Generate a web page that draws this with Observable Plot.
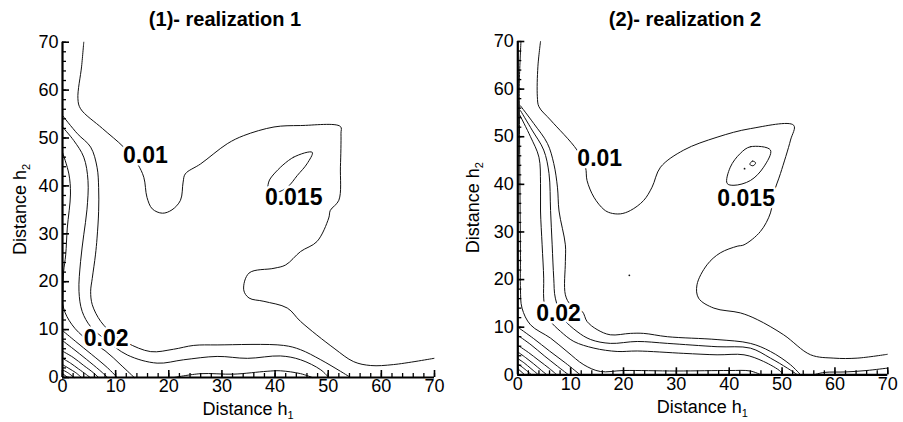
<!DOCTYPE html>
<html><head><meta charset="utf-8">
<script src="https://cdn.jsdelivr.net/npm/d3@7"></script>
<script src="https://cdn.jsdelivr.net/npm/@observablehq/plot@0.6"></script>
<style>
body{margin:0;background:#fff;}
#root{position:relative;width:903px;height:422px;overflow:hidden;font-family:"Liberation Sans",Arial,sans-serif;background:#fff;}
.title{position:absolute;top:6px;height:26px;line-height:26px;font-weight:bold;font-size:20px;text-align:center;color:#000;}
.panel{position:absolute;top:35px;}
</style>
</head><body>
<div id="root">
  <div class="title" style="left:25px;width:400px;">(1)- realization 1</div>
  <div class="title" style="left:485px;width:400px;">(2)- realization 2</div>
  <div class="panel" id="p1" style="left:0px;"></div>
  <div class="panel" id="p2" style="left:451px;"></div>
</div>
<script>
// ---------- axis ticks ----------
const majorTicks = [0,10,20,30,40,50,60,70];
const minorTicks = [0,2,4,6,8,10,12,14,16,18,20,22,24,26,28,30,32,34,36,38,40,42,44,46,48,50,52,54,56,58,60,62,64,66,68,70];

// ---------- realization 1 contour lines (x = h1, y = h2) ----------
const r1_c010 = [[4.0,70],[3.6,65],[2.9,58.2],[3.4,56.1],[7.5,52],[11.5,48.1],[14.1,44.6],[15.3,41.8],[15.9,37.6],[16.9,35.2],[18.8,34.3],[20.6,35.0],[22.2,37],[22.7,40.8],[23.1,42.5],[26,44.6],[31,48.8],[34.1,50.5],[39.8,52.3],[44.8,52.6],[52.3,52.4],[52.4,50.9],[52.3,44],[52,37],[50.4,34.9],[50.1,33.3],[47.9,28.4],[44.8,26.3],[42,23.5],[39.8,22.8],[35.1,21.8],[34.1,18.3],[35.1,16.6],[37.9,15.9],[42.3,14.5],[44.8,11.7],[51.1,6.1],[54.8,3.3],[58,2.5],[62.3,2.7],[69.9,4.0]];
const r1_c015loop = [[47,47],[43.5,46],[39.8,42.5],[38.8,40.8],[38.8,39],[40.4,38.7],[42.3,39.7],[44.2,42.2],[46,44.6]];
const r1_a = [[0,54.7],[2.8,50.9],[5.3,48.1],[6.5,43.9],[6.8,39.7],[6.8,34.7],[6.5,29.1],[6.2,25.6],[5.6,20.7],[5.3,18],[5.6,15.2],[7.2,11.7],[9.7,8.9],[12.2,7.2],[16.6,5.4],[20.9,5.9],[24.7,6.7],[29.1,6.8],[41.6,6.7],[44.8,5.8],[48.6,3.7],[52.3,1.3],[54.2,0]];
const r1_b = [[0,52.3],[2.1,49.5],[4,46],[4.8,41.1],[4.6,35],[4,29.8],[3.4,24.2],[3.1,18],[3.7,13.8],[5.3,10.6],[8,8],[12.2,4.7],[17.8,3],[22.8,3.7],[29.1,4.4],[34.8,4],[41,4.5],[44.8,3.7],[48.6,1.6],[50.1,0]];
const r1_c = [[0,47],[1.2,42.5],[1.5,38.3],[0.9,31.2],[0.6,25.6],[0.2,22],[0.1,18],[0.2,14.5],[1.8,11],[4.5,8],[8,5.6],[11,2.6],[13.5,0]];
const r1_d = [[21,0],[26,0.8],[32.2,0.7],[38.5,1.3],[41,1.4],[44.8,0.8],[47,0]];
const r1_f1 = [[0,9.8],[2.5,7.5],[5.5,4.8],[8.5,2],[10.3,0]];
const r1_f2 = [[0,7.7],[2,6],[4.5,3.8],[7,1.5],[8.5,0]];
const r1_f3 = [[0,5.5],[2,4.2],[4,2.5],[5.8,1],[6.8,0]];
const r1_f4 = [[0,4],[1.5,3],[3,1.8],[4.5,0.6],[5.2,0]];
const r1_f5 = [[0,2.7],[1.2,1.9],[2.5,1],[3.6,0]];
const r1_f6 = [[0,1.6],[1,1],[2.2,0]];
const r1_f7 = [[0,0.8],[1,0]];
const r1_labels = [[15.6,46.3,"0.01"],[43.5,37.5,"0.015"],[8.2,8.2,"0.02"]];

// ---------- realization 2 contour lines ----------
const r2_c010 = [[4.3,70],[3.8,64.7],[3.7,58.4],[4,56.3],[6.2,53.5],[11.2,47.2],[12.8,43.6],[13.1,40.8],[14.4,37.3],[16.3,34.7],[17.5,34],[19.4,33.8],[21.3,34.5],[23.8,36.6],[25.4,39.4],[27,43.6],[31.4,47.2],[37.7,49.9],[44,51.7],[52.2,52.4],[51.6,49.3],[49.7,42.3],[48.4,38],[47.8,34],[45.9,30.1],[42.8,27.3],[41.5,27],[38.3,25.6],[35.8,23.1],[33.9,18.9],[34.2,16.1],[37.1,14],[42.1,13],[45.3,11.6],[50.3,8.4],[55.4,4.2],[59.8,3.5],[64.2,3.5],[69.9,4.3]];
const r2_c015loop = [[47.8,47.2],[44,47.9],[42.1,46.5],[40.2,43.6],[39.6,40.2],[40.9,39.8],[44,40.8],[46.5,43.6]];
const r2_innerloop = [[43.9,44.2],[44.4,44.9],[45,44.5],[44.5,43.9]];
const r2_dots = [[42.9,43.3],[21.1,20.9]];
const r2_a = [[0.5,56.5],[3,52.8],[5.6,48.6],[6.8,44.4],[7.5,39.4],[7.8,34.4],[9,27.3],[9,23.8],[9,16.8],[10,14.7],[12.2,13.3],[13.1,11.2],[15,9.5],[17.5,8.4],[21.3,8.7],[23.8,8.7],[28.3,8],[37.7,7.4],[44,6.6],[47.8,4.9],[51.6,2.1],[53.5,0]];
const r2_b = [[0.5,55.5],[2.7,51.4],[4.9,47.2],[5.9,42.3],[6.2,34.5],[6.5,27.3],[6.8,20.3],[7.1,16.1],[8.5,12],[11.2,9.1],[13.8,7.4],[17.5,6.6],[22.6,7],[28.3,6.6],[37.7,5.9],[44,5.6],[47.8,3.5],[51,1.4],[52.9,0]];
const r2_c = [[0.4,54.5],[2.4,50],[4,45.7],[4.3,40.2],[4.3,34.4],[4.6,27.3],[4.9,20.3],[4.9,16.1],[5.3,13],[6.2,11.2],[8.1,9.1],[10.6,7],[14.4,5.6],[18.8,4.9],[22.6,5],[31.4,4.5],[37.7,4.2],[42.8,4.2],[46.5,2.8],[49.7,0.7],[50.1,0]];
const r2_d = [[0.6,70],[0.3,62],[0.3,56],[0.4,40],[0.5,25],[0.5,18],[0.8,14],[2.4,10.5],[6.2,7.7],[9.3,4.9],[12.5,2.1],[15.6,0.7],[20,0.9],[30,0.8],[40,0.9],[44,0.8],[46,0]];
const r2_e = [[56,0],[58,0.5],[62,0.6],[66,0.9],[69.9,1.4]];
const r2_f1 = [[0,10],[3,7.6],[6,5],[9,2.5],[11.8,0]];
const r2_f2 = [[0,8.3],[2.5,6.3],[5,4],[7.5,1.8],[9.6,0]];
const r2_f3 = [[0,6.2],[2,4.7],[4,3],[6,1.3],[7.4,0]];
const r2_f4 = [[0,4.8],[1.5,3.6],[3,2.3],[4.5,0.9],[5.5,0]];
const r2_f5 = [[0,3.4],[1.2,2.5],[2.5,1.3],[3.9,0]];
const r2_f6 = [[0,2.3],[1.2,1.3],[2.6,0]];
const r2_f7 = [[0,1.3],[1.3,0]];
const r2_labels = [[15.5,45.5,"0.01"],[43.2,36.9,"0.015"],[7.7,12.9,"0.02"]];

function toRows(lines){
  const rows = [];
  lines.forEach((ln, i) => ln.forEach(([x,y]) => rows.push({x, y, id: i})));
  return rows;
}

const FONT = "Liberation Sans, Arial, sans-serif";

function makePanel(cfg){
  const H = 387;
  const plotW = cfg.width - cfg.ml - cfg.mr;
  const plotH = H - cfg.mt - cfg.mb;
  const chart = Plot.plot({
    width: cfg.width, height: H,
    marginLeft: cfg.ml, marginRight: cfg.mr, marginTop: cfg.mt, marginBottom: cfg.mb,
    x: {domain: [0,70]},
    y: {domain: [0,70]},
    style: {fontFamily: FONT, background: "white", color: "black", overflow: "visible"},
    marks: [
      Plot.line(toRows(cfg.open), {x: "x", y: "y", z: "id", curve: "catmull-rom", stroke: "#111", strokeWidth: 1}),
      Plot.line(toRows(cfg.closed), {x: "x", y: "y", z: "id", curve: "catmull-rom-closed", stroke: "#111", strokeWidth: 1}),
      Plot.dot(cfg.dots, {x: d => d[0], y: d => d[1], r: 0.9, fill: "#111", stroke: "none"}),
      Plot.text(cfg.labels, {x: d => d[0], y: d => d[1], text: d => d[2], fontSize: 23, fontWeight: "bold", fill: "black", stroke: "white", strokeWidth: 5, fontFamily: FONT}),
      Plot.tickY(minorTicks, {y: d => d, insetRight: plotW - 4, stroke: "black", strokeWidth: 1.3}),
      Plot.tickY(majorTicks, {y: d => d, insetRight: plotW - 7, stroke: "black", strokeWidth: 1.6}),
      Plot.tickX(minorTicks, {x: d => d, insetTop: plotH - 4, stroke: "black", strokeWidth: 1.3}),
      Plot.tickX(majorTicks, {x: d => d, insetTop: plotH - 7, stroke: "black", strokeWidth: 1.6}),
      Plot.ruleX([0], {stroke: "black", strokeWidth: 2.2}),
      Plot.ruleY([0], {stroke: "black", strokeWidth: 2.2}),
      Plot.axisX({ticks: majorTicks, tickSize: 0, tickPadding: 2, fontSize: 18, label: null, tickFormat: d => String(d)}),
      Plot.axisY({ticks: majorTicks, tickSize: 0, tickPadding: 4, fontSize: 18, label: null, tickFormat: d => String(d)})
    ]
  });
  const svg = d3.select(chart);
  const xs = chart.scale("x"), ys = chart.scale("y");
  const cx = (xs.apply(0) + xs.apply(70)) / 2 + cfg.xlabDx;
  const t1 = svg.append("text").attr("x", cx).attr("y", cfg.xlabY).attr("text-anchor", "middle")
    .attr("font-size", 18).attr("font-family", FONT).attr("fill", "black");
  t1.append("tspan").text("Distance h");
  t1.append("tspan").attr("font-size", 11).attr("dy", 4).text("1");
  const cy = (ys.apply(0) + ys.apply(70)) / 2 + cfg.ylabDy;
  const t2 = svg.append("text").attr("transform", `translate(${cfg.ylabX},${cy}) rotate(-90)`).attr("text-anchor", "middle")
    .attr("font-size", 18).attr("font-family", FONT).attr("fill", "black");
  t2.append("tspan").text("Distance h");
  t2.append("tspan").attr("font-size", 11).attr("dy", 4).text("2");
  document.getElementById(cfg.el).appendChild(chart);
}

makePanel({
  el: "p1", width: 451, ml: 62, mr: 17, mt: 6.7, mb: 45,
  open: [r1_c010, r1_a, r1_b, r1_c, r1_d, r1_f1, r1_f2, r1_f3, r1_f4, r1_f5, r1_f6, r1_f7],
  closed: [r1_c015loop],
  dots: [],
  labels: r1_labels,
  xlabY: 380, xlabDx: 0, ylabX: 26, ylabDy: 0
});
makePanel({
  el: "p2", width: 452, ml: 66.3, mr: 15.7, mt: 6, mb: 47.7,
  open: [r2_c010, r2_a, r2_b, r2_c, r2_d, r2_e, r2_f1, r2_f2, r2_f3, r2_f4, r2_f5, r2_f6, r2_f7],
  closed: [r2_c015loop, r2_innerloop],
  dots: r2_dots,
  labels: r2_labels,
  xlabY: 378, xlabDx: 0, ylabX: 28, ylabDy: 0
});
</script>
</body></html>
